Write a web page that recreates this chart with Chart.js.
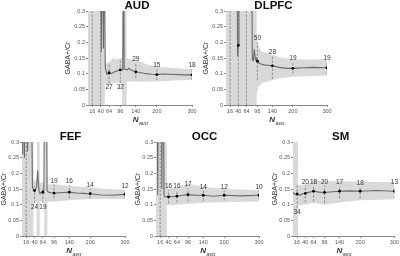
<!DOCTYPE html>
<html>
<head>
<meta charset="utf-8">
<script src="https://cdn.jsdelivr.net/npm/chart.js@4.4.1/dist/chart.umd.min.js"></script>
<style>
  html, body { margin: 0; padding: 0; background: #fff; }
  #wrap { position: relative; width: 400px; height: 256px; overflow: hidden; }
  canvas { position: absolute; }
</style>
</head>
<body>
<div id="wrap">
  <canvas id="aud"></canvas>
  <canvas id="dlpfc"></canvas>
  <canvas id="fef"></canvas>
  <canvas id="occ"></canvas>
  <canvas id="sm"></canvas>
</div>
<script>
// ------------------------------
// shared axis ticks
// ------------------------------
const xTicks = [16, 40, 64, 96, 140, 200, 300];
const yTicks = [0, 0.05, 0.1, 0.15, 0.2, 0.25, 0.3];

// ------------------------------
// AUD
// ------------------------------
const audN = [4, 40, 42, 44, 46, 48, 50, 53, 57, 60, 64, 70, 80, 90, 96, 100, 103, 105, 107, 110, 116, 120, 126, 132, 140, 155, 170, 185, 200, 220, 240, 260, 280, 300];
const audMean = [0.6, 0.6, 0.17, 0.6, 0.6, 0.18, 0.6, 0.12, 0.1, 0.098, 0.103, 0.1, 0.106, 0.11, 0.112, 0.113, 0.113, 0.6, 0.115, 0.114, 0.112, 0.117, 0.112, 0.109, 0.106, 0.103, 0.1, 0.098, 0.097, 0.099, 0.098, 0.097, 0.096, 0.096];
const audBandN = [4, 50, 52, 57, 64, 75, 85, 96, 101, 102, 113, 114, 125, 140, 170, 200, 250, 300];
const audUpper = [0.6, 0.6, 0.14, 0.135, 0.135, 0.15, 0.145, 0.15, 0.15, 0.6, 0.6, 0.15, 0.145, 0.145, 0.13, 0.122, 0.118, 0.115];
const audLower = [-0.3, -0.3, 0.07, 0.066, 0.065, 0.07, 0.072, 0.07, 0.07, -0.3, -0.3, 0.075, 0.075, 0.074, 0.075, 0.075, 0.078, 0.08];
const audPts = [null, null, 0.103, 0.112, 0.106, 0.097, 0.096];
const audErrLo = [0, 0, 0.07, 0.07, 0.085, 0.08, 0.08];
const audErrHi = [0.3, 0.3, 0.135, 0.145, 0.135, 0.115, 0.115];
const audLbl = [null, null, "27", "32", "29", "15", "18"];
const audLblPos = [null, null, "b", "b", "a", "a", "a"];

// ------------------------------
// DLPFC
// ------------------------------
const dlpfcN = [4, 36, 38, 40, 42, 79, 81, 84, 87, 90, 93, 96, 100, 108, 116, 125, 140, 160, 180, 200, 230, 260, 300];
const dlpfcMean = [0.6, 0.6, 0.155, 0.19, 0.6, 0.6, 0.145, 0.142, 0.178, 0.145, 0.15, 0.14, 0.135, 0.13, 0.128, 0.127, 0.125, 0.12, 0.117, 0.117, 0.119, 0.12, 0.119];
const dlpfcBandN = [4, 93, 94, 100, 110, 125, 140, 170, 200, 250, 300];
const dlpfcUpper = [0.6, 0.6, 0.21, 0.185, 0.17, 0.165, 0.16, 0.15, 0.146, 0.145, 0.145];
const dlpfcLower = [-0.3, -0.3, 0.035, 0.06, 0.07, 0.075, 0.08, 0.086, 0.09, 0.092, 0.094];
const dlpfcPts = [null, 0.19, null, 0.14, 0.125, 0.117, 0.119];
const dlpfcErrLo = [0, 0, 0, 0.08, 0.083, 0.1, 0.1];
const dlpfcErrHi = [0.3, 0.3, 0.3, 0.2, 0.158, 0.137, 0.137];
const dlpfcLbl = [null, null, null, "50", "28", "19", "19"];
const dlpfcLblPos = [null, null, null, "a", "a", "a", "a"];

// ------------------------------
// FEF
// ------------------------------
const fefN = [4, 6, 8, 11, 14, 17, 20, 24, 27, 30, 32, 34, 37, 40, 43, 46, 49, 51, 53, 56, 60, 64, 67, 69, 72, 74, 76, 80, 88, 96, 110, 125, 140, 160, 180, 200, 230, 260, 300];
const fefMean = [0.6, 0.26, 0.6, 0.25, 0.6, 0.6, 0.27, 0.6, 0.6, 0.6, 0.6, 0.16, 0.145, 0.145, 0.15, 0.155, 0.21, 0.17, 0.145, 0.135, 0.14, 0.14, 0.145, 0.6, 0.6, 0.6, 0.145, 0.14, 0.138, 0.137, 0.138, 0.139, 0.14, 0.137, 0.136, 0.135, 0.131, 0.13, 0.133];
const fefBandN = [4, 36, 37, 46, 47, 54, 55, 68, 69, 76, 77, 96, 140, 200, 250, 300];
const fefUpper = [0.6, 0.6, 0.18, 0.175, 0.6, 0.6, 0.17, 0.17, 0.6, 0.6, 0.165, 0.165, 0.16, 0.155, 0.15, 0.148];
const fefLower = [-0.3, -0.3, 0.11, 0.11, -0.3, -0.3, 0.11, 0.11, -0.3, -0.3, 0.11, 0.109, 0.114, 0.118, 0.118, 0.118];
const fefPts = [null, 0.145, 0.14, 0.137, 0.14, 0.135, 0.133];
const fefErrLo = [0, 0.105, 0.105, 0.12, 0.12, 0.12, 0.12];
const fefErrHi = [0.3, 0.16, 0.155, 0.164, 0.162, 0.15, 0.147];
const fefLbl = [null, "24", "19", "19", "16", "14", "12"];
const fefLblPos = [null, "b", "b", "a", "a", "a", "a"];

// ------------------------------
// OCC
// ------------------------------
const occN = [4, 7, 9, 11, 19, 21, 23, 25, 27, 30, 34, 40, 50, 64, 80, 96, 120, 140, 170, 200, 250, 300];
const occMean = [0.6, 0.6, 0.13, 0.6, 0.6, 0.15, 0.6, 0.6, 0.13, 0.124, 0.126, 0.125, 0.126, 0.127, 0.13, 0.132, 0.13, 0.13, 0.127, 0.13, 0.128, 0.13];
const occBandN = [4, 34, 35, 40, 64, 96, 140, 200, 300];
const occUpper = [0.6, 0.6, 0.155, 0.151, 0.155, 0.167, 0.157, 0.151, 0.146];
const occLower = [-0.3, -0.3, 0.098, 0.098, 0.1, 0.103, 0.106, 0.108, 0.11];
const occPts = [null, 0.125, 0.127, 0.132, 0.13, 0.13, 0.13];
const occErrLo = [0, 0.105, 0.108, 0.11, 0.112, 0.113, 0.115];
const occErrHi = [0.3, 0.146, 0.146, 0.152, 0.145, 0.145, 0.145];
const occLbl = [null, "16", "16", "17", "14", "12", "10"];
const occLblPos = [null, "a", "a", "a", "a", "a", "a"];

// ------------------------------
// SM
// ------------------------------
const smN = [4, 10, 16, 24, 32, 40, 52, 64, 80, 96, 120, 140, 170, 200, 250, 300];
const smMean = [0.14, 0.132, 0.134, 0.13, 0.135, 0.136, 0.14, 0.143, 0.14, 0.139, 0.141, 0.143, 0.144, 0.143, 0.145, 0.143];
const smBandN = [4, 18, 19, 28, 40, 64, 96, 140, 200, 250, 300];
const smUpper = [0.6, 0.6, 0.165, 0.163, 0.165, 0.178, 0.175, 0.175, 0.173, 0.172, 0.172];
const smLower = [-0.3, -0.3, 0.1, 0.098, 0.1, 0.105, 0.1, 0.107, 0.114, 0.116, 0.117];
const smPts = [0.134, 0.136, 0.143, 0.139, 0.143, 0.143, 0.143];
const smErrLo = [0.09, 0.107, 0.11, 0.105, 0.12, 0.12, 0.12];
const smErrHi = [0.162, 0.16, 0.16, 0.16, 0.16, 0.158, 0.16];
const smLbl = ["34", "20", "18", "20", "17", "18", "13"];
const smLblPos = ["b", "a", "a", "a", "a", "a", "a"];

const FONT = "'Liberation Sans', Arial, sans-serif";
Chart.defaults.font.family = FONT;

const pairs = (xs, ys) => xs.map((x, i) => ({ x, y: ys[i] }));

// 标注：数字、标题、N_avg
const panelText = {
  id: "panelText",
  afterDraw(chart, args, o) {
    const { ctx, chartArea: a, scales } = chart;
    const sx = scales.x, sy = scales.y;
    ctx.save();
    ctx.fillStyle = "#333";
    ctx.textAlign = "center";
    ctx.font = `6.5px ${FONT}`;
    xTicks.forEach((v, i) => {
      if (!o.lbl[i]) return;
      const px = sx.getPixelForValue(v);
      if (o.pos[i] === "a") {
        ctx.textBaseline = "bottom";
        ctx.fillText(o.lbl[i], px, sy.getPixelForValue(o.hi[i]) - 0.5);
      } else {
        ctx.textBaseline = "top";
        ctx.fillText(o.lbl[i], px, sy.getPixelForValue(o.lo[i]) + 1);
      }
    });
    // panel title
    ctx.fillStyle = "#111";
    ctx.textBaseline = "alphabetic";
    ctx.font = `bold 11.5px ${FONT}`;
    ctx.fillText(o.title, (a.left + a.right) / 2 - 3, a.top - 2.5);
    // x axis title N_avg
    const cx = (a.left + a.right) / 2;
    const by = a.bottom + 17;
    ctx.fillStyle = "#333";
    ctx.font = `italic bold 8px ${FONT}`;
    const wN = ctx.measureText("N").width;
    ctx.font = `italic 5.5px ${FONT}`;
    const wA = ctx.measureText("avg").width;
    const x0 = cx - (wN + wA) / 2;
    ctx.textAlign = "left";
    ctx.font = `italic bold 8px ${FONT}`;
    ctx.fillText("N", x0, by);
    ctx.font = `italic 5.5px ${FONT}`;
    ctx.fillText("avg", x0 + wN + 0.5, by + 2.5);
    ctx.restore();
  }
};

function makePanel(id, p) {
  const cv = document.getElementById(id);
  cv.width = p.w;
  cv.height = p.h;
  cv.style.left = p.left + "px";
  cv.style.top = p.top + "px";

  const errData = [];
  xTicks.forEach((v, i) => {
    errData.push({ x: v, y: p.lo[i] }, { x: v, y: p.hi[i] }, { x: v, y: null });
  });
  const ptData = [];
  xTicks.forEach((v, i) => {
    if (p.pts[i] != null) ptData.push({ x: v, y: p.pts[i] });
  });

  return new Chart(cv, {
    type: "line",
    data: {
      datasets: [
        {
          data: ptData,
          showLine: false,
          pointRadius: 1.4,
          pointBackgroundColor: "#000",
          pointBorderWidth: 0,
          order: 0
        },
        {
          data: pairs(p.n, p.mean),
          borderColor: "#6a6a6a",
          borderWidth: 1.1,
          pointRadius: 0,
          order: 1
        },
        {
          data: errData,
          borderColor: "#7a7a7a",
          borderWidth: 0.8,
          borderDash: [2.5, 1.5],
          pointRadius: 0,
          spanGaps: false,
          order: 2
        },
        {
          data: pairs(p.bandN, p.upper),
          borderWidth: 0,
          pointRadius: 0,
          backgroundColor: "#d9d9d9",
          fill: "+1",
          order: 3
        },
        {
          data: pairs(p.bandN, p.lower),
          borderWidth: 0,
          pointRadius: 0,
          fill: false,
          order: 4
        }
      ]
    },
    options: {
      responsive: false,
      animation: false,
      events: [],
      clip: 0,
      layout: { padding: { top: p.padTop, right: p.padRight, left: 0, bottom: 0 } },
      plugins: {
        legend: { display: false },
        tooltip: { enabled: false },
        panelText: { lbl: p.lbl, pos: p.pos, lo: p.lo, hi: p.hi, title: p.title }
      },
      scales: {
        x: {
          type: "linear",
          min: 4,
          max: 300,
          afterBuildTicks: s => { s.ticks = xTicks.map(v => ({ value: v })); },
          afterFit: s => { s.height = 20; },
          ticks: {
            autoSkip: false,
            maxRotation: 0,
            padding: 1,
            color: "#555",
            font: { size: 5.5 },
            callback: v => String(v)
          },
          grid: { drawOnChartArea: false, tickLength: 2, color: "#888" },
          border: { color: "#888" }
        },
        y: {
          min: 0,
          max: 0.3,
          afterBuildTicks: s => { s.ticks = yTicks.map(v => ({ value: v })); },
          afterFit: s => { s.width = p.yw; },
          ticks: {
            padding: 1,
            color: "#555",
            font: { size: 5.5 },
            callback: v => String(parseFloat(v.toFixed(2)))
          },
          grid: { drawOnChartArea: false, tickLength: 2, color: "#888" },
          border: { color: "#888" },
          title: {
            display: true,
            text: "GABA+/Cr",
            color: "#333",
            font: { size: 7 },
            padding: 0
          }
        }
      }
    },
    plugins: [panelText]
  });
}

makePanel("aud", {
  title: "AUD", left: 64, top: 0, w: 134, h: 125, yw: 24, padTop: 11, padRight: 6,
  n: audN, mean: audMean, bandN: audBandN, upper: audUpper, lower: audLower,
  pts: audPts, lo: audErrLo, hi: audErrHi, lbl: audLbl, pos: audLblPos
});
makePanel("dlpfc", {
  title: "DLPFC", left: 202, top: 0, w: 131, h: 125, yw: 24, padTop: 11, padRight: 6,
  n: dlpfcN, mean: dlpfcMean, bandN: dlpfcBandN, upper: dlpfcUpper, lower: dlpfcLower,
  pts: dlpfcPts, lo: dlpfcErrLo, hi: dlpfcErrHi, lbl: dlpfcLbl, pos: dlpfcLblPos
});
makePanel("fef", {
  title: "FEF", left: 0, top: 128, w: 131, h: 128, yw: 22, padTop: 14, padRight: 6,
  n: fefN, mean: fefMean, bandN: fefBandN, upper: fefUpper, lower: fefLower,
  pts: fefPts, lo: fefErrLo, hi: fefErrHi, lbl: fefLbl, pos: fefLblPos
});
makePanel("occ", {
  title: "OCC", left: 134, top: 128, w: 131, h: 128, yw: 22, padTop: 14, padRight: 6,
  n: occN, mean: occMean, bandN: occBandN, upper: occUpper, lower: occLower,
  pts: occPts, lo: occErrLo, hi: occErrHi, lbl: occLbl, pos: occLblPos
});
makePanel("sm", {
  title: "SM", left: 271, top: 128, w: 129, h: 128, yw: 22, padTop: 14, padRight: 5,
  n: smN, mean: smMean, bandN: smBandN, upper: smUpper, lower: smLower,
  pts: smPts, lo: smErrLo, hi: smErrHi, lbl: smLbl, pos: smLblPos
});
</script>
</body>
</html>
